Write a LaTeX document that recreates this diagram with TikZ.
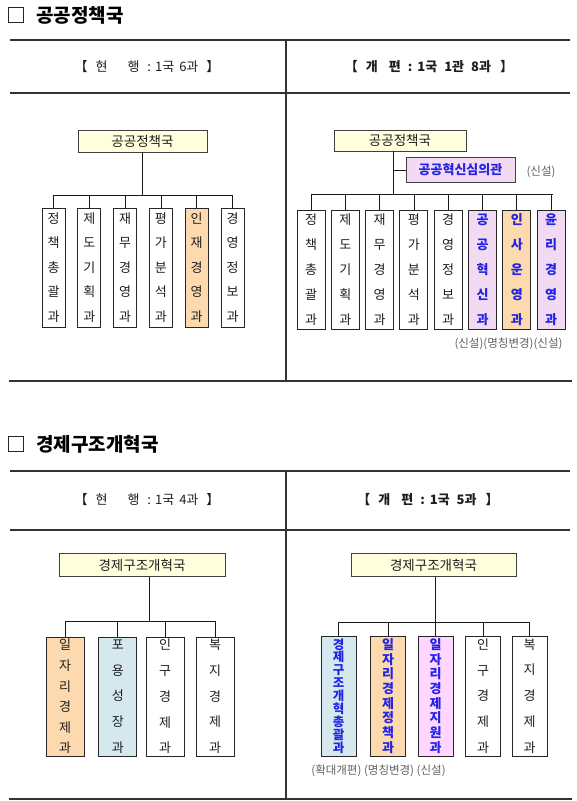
\documentclass[tikz,border=0pt]{standalone}
\usepackage{fontspec}
\setmainfont{Noto Sans CJK KR}
\definecolor{rooty}{RGB}{255,255,222}
\definecolor{peach}{RGB}{252,217,174}
\definecolor{pinka}{RGB}{242,218,242}
\definecolor{pinkb}{RGB}{255,214,255}
\definecolor{lblue}{RGB}{212,232,237}
\definecolor{kblue}{RGB}{35,35,230}
\definecolor{gtxt}{RGB}{95,95,95}
\definecolor{txt}{RGB}{30,30,30}
\newcommand{\gp}[1]{\hspace{#1pt}}
\begin{document}
\begin{tikzpicture}[x=1pt,y=-1pt,
  rule/.style={draw=black!80, line width=1.3pt},
  conn/.style={draw=black!90, line width=0.8pt},
  rootbox/.style={draw=black!75, line width=0.9pt, fill=rooty, inner sep=0pt, text=txt, font=\fontsize{13.5}{15}\selectfont},
  unit/.style={draw=black!85, line width=0.9pt, fill=white, inner sep=0pt, align=center, text=txt},
  new/.style={text=kblue},
  note/.style={text=gtxt, inner sep=0pt, font=\fontsize{11.5}{13}\selectfont},
  hdr/.style={text=txt, inner sep=0pt, font=\fontsize{13}{15}\selectfont},
  hdrb/.style={text=txt, inner sep=0pt, font=\fontsize{13}{15}\selectfont\bfseries},
  ttl/.style={text=black, inner sep=0pt, anchor=west, font=\fontsize{19}{21}\selectfont\bfseries},
  cbox/.style={draw=black!85, line width=0.8pt, minimum size=15pt, inner sep=0pt}
]
\useasboundingbox (0,0) rectangle (577,801);

% ===== Section 1 =====
\node[cbox] (cb1) at (16,15) {};
\node[ttl] (t1) at (36,15) {공공정책국};
\draw[rule] (10,40) -- (570,40);
\draw[rule] (10,93) -- (570,93);
\draw[rule] (9,381) -- (572,381);
\draw[rule] (286,40) -- (286,381);
\node[hdr] (h1) at (147,67) {【\gp{8}현\gp{20}행\gp{8}:\gp{4}1국\gp{5}6과\gp{8}】};
\node[hdrb] (h2) at (429,67) {【\gp{8}개\gp{11}편\gp{7}:\gp{5}1국\gp{7}1관\gp{7}8과\gp{9}】};

% top-left chart
\node[rootbox, minimum width=129pt, minimum height=22pt] (r1) at (142.5,141) {공공정책국};
\coordinate (bus1) at (0,195);
\begin{scope}[every node/.append style={unit, minimum width=23pt, minimum height=119pt, font=\fontsize{13}{24.5}\selectfont}]
\node (a1) at (53.5,267.5) {정\\책\\총\\괄\\과};
\node (a2) at (89.3,267.5) {제\\도\\기\\획\\과};
\node (a3) at (125.1,267.5) {재\\무\\경\\영\\과};
\node (a4) at (160.9,267.5) {평\\가\\분\\석\\과};
\node[fill=peach] (a5) at (196.7,267.5) {인\\재\\경\\영\\과};
\node (a6) at (232.5,267.5) {경\\영\\정\\보\\과};
\end{scope}
\draw[conn] (r1.south) -- (r1.south |- bus1);
\draw[conn] (a1.north |- bus1) -- (a6.north |- bus1);
\foreach \n in {a1,a2,a3,a4,a5,a6} \draw[conn] (\n.north |- bus1) -- (\n.north);

% top-right chart
\node[rootbox, minimum width=132pt, minimum height=21pt] (r2) at (400,140.5) {공공정책국};
\node[rootbox, fill=pinka, minimum width=109pt, minimum height=24.5pt, text=kblue, font=\fontsize{13}{15}\selectfont\bfseries] (s2) at (460.5,170) {공공혁신심의관};
\node[note] (n1) at (541,172) {(신설)};
\coordinate (tr2) at (393,151);
\coordinate (bus2) at (0,194);
\begin{scope}[every node/.append style={unit, minimum width=28pt, minimum height=118.5pt, font=\fontsize{13}{25}\selectfont}]
\node (b1) at (311,269.75) {정\\책\\총\\괄\\과};
\node (b2) at (345.3,269.75) {제\\도\\기\\획\\과};
\node (b3) at (379.6,269.75) {재\\무\\경\\영\\과};
\node (b4) at (413.9,269.75) {평\\가\\분\\석\\과};
\node (b5) at (448.2,269.75) {경\\영\\정\\보\\과};
\node[fill=pinka, new, font=\fontsize{13}{25}\selectfont\bfseries] (b6) at (482.5,269.75) {공\\공\\혁\\신\\과};
\node[fill=peach, new, font=\fontsize{13}{25}\selectfont\bfseries] (b7) at (516.8,269.75) {인\\사\\운\\영\\과};
\node[fill=pinka, new, font=\fontsize{13}{25}\selectfont\bfseries] (b8) at (551.1,269.75) {윤\\리\\경\\영\\과};
\end{scope}
\draw[conn] (tr2) -- (tr2 |- bus2);
\draw[conn] (tr2 |- s2.west) -- (s2.west);
\draw[conn] (b1.north |- bus2) -- ([xshift=2pt]b8.north |- bus2);
\foreach \n in {b1,b2,b3,b4,b5,b6,b7,b8} \draw[conn] (\n.north |- bus2) -- (\n.north);
\node[note] (n2) at (508.5,344) {(신설)(명칭변경)(신설)};

% ===== Section 2 =====
\node[cbox] (cb2) at (16,444) {};
\node[ttl] (t2) at (36,444) {경제구조개혁국};
\draw[rule] (10,471) -- (570,471);
\draw[rule] (10,530) -- (570,530);
\draw[rule] (9,799) -- (572,799);
\draw[rule] (286,471) -- (286,799);
\node[hdr] (h3) at (147,500) {【\gp{8}현\gp{20}행\gp{8}:\gp{4}1국\gp{5}4과\gp{8}】};
\node[hdrb] (h4) at (428,500) {【\gp{8}개\gp{11}편\gp{7}:\gp{5}1국\gp{7}5과\gp{9}】};

% bottom-left chart
\node[rootbox, minimum width=166pt, minimum height=22.5pt] (r3) at (142,565) {경제구조개혁국};
\coordinate (tr3) at (149,576.5);
\coordinate (bus3) at (0,621);
\begin{scope}[every node/.append style={unit, minimum width=38pt, minimum height=119pt, font=\fontsize{13}{25.75}\selectfont}]
\node[fill=peach, font=\fontsize{13}{20.6}\selectfont] (c1) at (65,696.5) {일\\자\\리\\경\\제\\과};
\node[fill=lblue] (c2) at (117.8,696.5) {포\\용\\성\\장\\과};
\node (c3) at (165.2,696.5) {인\\구\\경\\제\\과};
\node (c4) at (215,696.5) {복\\지\\경\\제\\과};
\end{scope}
\draw[conn] (tr3) -- (tr3 |- bus3);
\draw[conn] (c1.north |- bus3) -- (c4.north |- bus3);
\foreach \n in {c1,c2,c3,c4} \draw[conn] (\n.north |- bus3) -- (\n.north);

% bottom-right chart
\node[rootbox, minimum width=165pt, minimum height=22.5pt] (r4) at (433.5,565) {경제구조개혁국};
\coordinate (bus4) at (0,622);
\begin{scope}[every node/.append style={unit, minimum width=35pt, minimum height=120pt, font=\fontsize{13}{25.75}\selectfont}]
\node[fill=lblue, new, font=\fontsize{12.5}{12.9}\selectfont\bfseries] (d1) at (338.5,696) {경\\제\\구\\조\\개\\혁\\총\\괄\\과};
\node[fill=peach, new, font=\fontsize{13}{14.7}\selectfont\bfseries] (d2) at (388,696) {일\\자\\리\\경\\제\\정\\책\\과};
\node[fill=pinkb, new, font=\fontsize{13}{14.7}\selectfont\bfseries] (d3) at (435.5,696) {일\\자\\리\\경\\제\\지\\원\\과};
\node (d4) at (483,696) {인\\구\\경\\제\\과};
\node (d5) at (529.5,696) {복\\지\\경\\제\\과};
\end{scope}
\draw[conn] (d3.north |- r4.south) -- (d3.north);
\draw[conn] (d1.north |- bus4) -- (d5.north |- bus4);
\foreach \n in {d1,d2,d4,d5} \draw[conn] (\n.north |- bus4) -- (\n.north);
\node[note] (n3) at (378.5,771) {(확대개편) (명칭변경) (신설)};
\end{tikzpicture}
\end{document}
